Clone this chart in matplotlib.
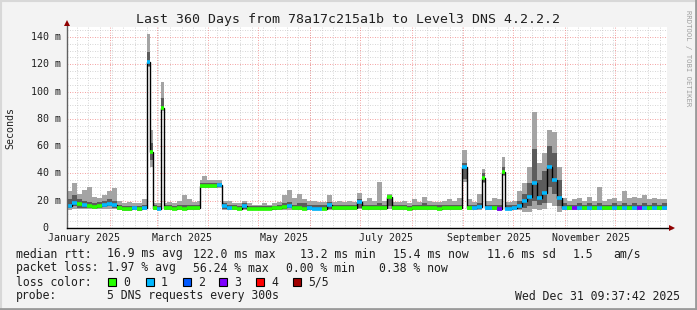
import numpy as np
import matplotlib
matplotlib.use("Agg")
import matplotlib.pyplot as plt
from matplotlib.transforms import blended_transform_factory
from matplotlib.lines import Line2D
from matplotlib.patches import Rectangle
import datetime as dt

# ---------------- data (days since graph start, values in ms) ----------------
seg_day = [0, 3, 6, 9, 12, 15, 18, 21, 24, 27, 30, 33, 36, 39, 42, 45,
           48, 49.8, 51.6, 54, 56.4, 58.2, 60, 63, 66, 69, 72, 75, 78,
           79.8, 81, 84, 87, 90, 93, 96, 99, 102, 105, 108, 111, 114, 117, 120,
           123, 126, 129, 132, 135, 138, 141, 144, 147, 150, 153, 156, 159, 162,
           165, 168, 171, 174, 177, 180, 183, 186, 189, 192, 195, 198, 201, 204,
           207, 210, 213, 216, 219, 222, 225, 228, 231, 234, 237, 240, 243, 246,
           249, 250.8, 252, 255, 258, 261, 262.8, 264, 267, 270, 273, 276, 279,
           282, 285, 288, 291, 294, 297, 300, 303, 306, 309, 312, 315, 318, 321,
           324, 327, 330, 333, 336, 339, 342, 345, 348, 351, 354, 357]
median = [16, 18, 17.5, 16.5, 16, 15.5, 16, 17, 17.5, 16.5, 15, 14, 14, 14.5, 14, 14.5,
          122, 56, 15, 14, 88, 15, 14.5, 14, 14.5, 14, 14.5, 14.5, 15,
          31, 31, 31, 31, 31.5, 16, 15, 14.5, 14, 16, 14, 14, 14, 14, 14,
          14.5, 14.5, 15.5, 16, 14.5, 14.5, 14, 15, 14, 14, 14, 17, 14.5, 14.5,
          14.5, 14.5, 14.5, 19, 14.5, 14.5, 14.5, 15, 14.5, 22.5, 14.5, 14.5, 14.5, 14,
          14.5, 14.5, 15, 14.5, 14.5, 14, 14.5, 14.5, 15, 14.5, 45, 15, 15, 15.5,
          37, 14.5, 14.5, 14.5, 14, 41, 14, 14, 14.5, 16, 20, 23, 33,
          22, 26, 45, 35, 22, 15, 14.5, 14.5, 15, 14.5, 15, 14.5, 15, 14.5,
          14.5, 15, 14.5, 15, 14.5, 15, 14.5, 15, 14.5, 15, 14.5, 15]
smoke_lo = [13, 14, 14, 14, 14, 14, 14, 14, 14, 14, 13, 12.5, 12.5, 13, 12.5, 13,
            118, 45, 13, 13, 86, 13, 13, 13, 13, 13, 13, 13, 13,
            29, 29, 29, 29, 29, 13, 13, 13, 13, 13, 13, 13, 13, 13, 13,
            13, 13, 13, 13, 13, 13, 13, 13, 13, 13, 13, 13, 13, 13,
            13, 13, 13, 14, 13, 13, 13, 13, 13, 14, 13, 13, 13, 13,
            13, 13, 13, 13, 13, 13, 13, 13, 13, 13, 34, 13, 13, 13,
            33, 13, 13, 13, 12.5, 38, 13, 13, 13, 13, 12, 12, 14,
            13, 14, 18, 16, 12, 13, 13, 13, 13, 13, 13, 13, 13, 13,
            13, 13, 13, 13, 13, 13, 13, 13, 13, 13, 13, 13]
dark_lo = [15, 16, 15, 15, 15, 15, 15, 15.5, 16, 15, 14, 13.5, 13.5, 14, 13.5, 14,
           119, 50, 14, 13.5, 87, 14, 14, 13.5, 14, 13.5, 14, 14, 14,
           30, 30, 30, 30, 30, 14, 14, 14, 13.5, 14, 13.5, 13.5, 13.5, 13.5, 13.5,
           13.5, 14, 14, 14.5, 14, 14, 14, 14, 13.5, 13.5, 13.5, 14, 14, 14,
           14, 14, 14, 15, 14, 14, 14, 14, 14, 16, 14, 14, 14, 13.5,
           14, 14, 14, 14, 14, 13.5, 14, 14, 14, 14, 36, 14, 14, 14,
           34, 14, 14, 14, 13.5, 39, 13.5, 13.5, 14, 14, 15, 16, 20,
           17, 18, 30, 25, 16, 14, 14, 14, 14, 14, 14, 14, 14, 14,
           14, 14, 14, 14, 14, 14, 14, 14, 14, 14, 14, 14]
dark_hi = [21, 24, 21, 20, 19, 18, 19, 20, 21, 20, 17, 16, 16, 16, 16, 17,
           129, 62, 17, 16, 95, 17, 17, 16, 17, 17, 17, 17, 17,
           33, 33, 33, 33, 33, 18, 17, 17, 16, 18, 16, 16, 16, 16, 16,
           16, 17, 18, 19, 17, 18, 18, 17, 17, 17, 17, 19, 17, 17,
           17, 17, 17, 21, 17, 17, 17, 18, 17, 23, 17, 17, 17, 16,
           17, 17, 18, 17, 17, 17, 17, 17, 17, 17, 48, 17, 17, 18,
           40, 17, 17, 17, 17, 45, 17, 17, 17, 20, 25, 33, 58,
           35, 42, 60, 55, 35, 18, 17, 17, 18, 17, 18, 17, 18, 17,
           17, 18, 17, 18, 17, 18, 17, 18, 17, 18, 17, 18]
smoke_hi = [27, 33, 25, 28, 30, 23, 22, 24, 27, 29, 20, 18, 19, 18, 18, 21,
            142, 72, 18, 18, 107, 18, 19, 18, 20, 24, 21, 19, 20,
            35, 38, 35, 35, 35, 20, 20, 18, 18, 20, 18, 17, 17, 18, 17,
            18, 19, 24, 28, 22, 25, 21, 20, 20, 19, 19, 24, 19, 20,
            19, 20, 19, 26, 20, 22, 20, 34, 20, 25, 19, 19, 20, 18,
            21, 19, 23, 20, 19, 19, 20, 21, 20, 22, 57, 21, 19, 25,
            43, 20, 20, 22, 21, 52, 19, 19, 20, 27, 33, 45, 85,
            48, 55, 72, 70, 45, 22, 20, 21, 22, 20, 23, 20, 30, 20,
            21, 22, 20, 27, 22, 23, 22, 24, 21, 22, 21, 21]
loss = [1, 1, 0, 1, 0, 0, 0, 1, 1, 1, 0, 0, 0, 1, 0, 1,
        1, 0, 0, 1, 0, 0, 0, 0, 0, 0, 0, 0, 0,
        0, 0, 0, 0, 1, 1, 1, 0, 0, 1, 0, 0, 0, 0, 0,
        0, 0, 0, 1, 0, 0, 0, 1, 1, 1, 0, 1, 0, 0,
        0, 0, 0, 1, 0, 0, 0, 0, 0, 0, 0, 0, 0, 0,
        0, 0, 0, 0, 0, 0, 0, 0, 0, 0, 1, 0, 1, 1,
        0, 1, 1, 0, 3, 0, 1, 1, 1, 1, 1, 1, 1,
        1, 1, 1, 1, 1, 1, 0, 3, 1, 0, 1, 0, 1, 0,
        0, 1, 0, 1, 0, 1, 3, 1, 0, 1, 0, 1]
total_days = 360

y_ticks = [0, 20, 40, 60, 80, 100, 120, 140]
month_labels = ["January 2025", "March 2025", "May 2025", "July 2025",
                "September 2025", "November 2025"]
loss_names = ["0", "1", "2", "3", "4", "5/5"]
loss_colors = ["#26ff00", "#00b8ff", "#0059ff", "#7e00ff", "#ff0000", "#a00000"]

legend_rows = [
    [(16, "median rtt:"), (107, "16.9 ms avg"), (193, "122.0 ms max"),
     (300, "13.2 ms min"), (393, "15.4 ms now"), (487, "11.6 ms sd"),
     (573, "1.5"), (613, "am/s")],
    [(16, "packet loss:"), (107, "1.97 % avg"), (193, "56.24 % max"),
     (286, "0.00 % min"), (379, "0.38 % now")],
]

# ---------------- figure ----------------
W, H = 697, 310
fig = plt.figure(figsize=(W / 100, H / 100), dpi=100)
fig.patch.set_facecolor("#f3f3f3")
MONO = "DejaVu Sans Mono"

def fx(x):
    return x / W

def fy(y):
    return 1 - y / H

px_left, px_right, px_top, px_bottom = 67, 667, 27, 228
ax = fig.add_axes([fx(px_left), fy(px_bottom), (px_right - px_left) / W,
                   (px_bottom - px_top) / H])
ax.set_facecolor("white")
ymax = (px_bottom - px_top) / (27.29 / 20)
ax.set_xlim(0, total_days)
ax.set_ylim(0, ymax)
for s in ax.spines.values():
    s.set_visible(False)
ax.set_xticks([])
ax.set_yticks([])

start = dt.datetime(2025, 1, 6, 5, 0)

def dday(d):
    return (d - start).total_seconds() / 86400.0

# grid
dots = (0, (1, 2))
for v in np.arange(5, ymax, 5):
    if v % 20 != 0:
        ax.axhline(v, color="#c8c8c8", lw=0.6, ls=dots, zorder=0)
d = dt.datetime(2025, 1, 12)
while dday(d) < total_days:
    ax.axvline(dday(d), color="#c8c8c8", lw=0.6, ls=dots, zorder=0)
    d += dt.timedelta(days=7)
for v in y_ticks[1:]:
    ax.axhline(v, color="#f08080", lw=0.6, ls=dots, zorder=0.5)
for m in range(2, 13):
    ax.axvline(dday(dt.datetime(2025, m, 1)), color="#f08080", lw=0.6, ls=dots,
               zorder=0.5)

edges = np.array(list(seg_day) + [total_days], dtype=float)
ax.stairs(smoke_hi, edges, baseline=smoke_lo, fill=True, color="#a4a4a4", lw=0,
          zorder=1)
ax.stairs(dark_hi, edges, baseline=dark_lo, fill=True, color="#5c5c5c", lw=0,
          zorder=2)
ax.stairs(median, edges, baseline=None, color="black", lw=1.0, zorder=3)
ax.hlines(median, edges[:-1], edges[1:], colors=[loss_colors[l] for l in loss],
          lw=2.6, zorder=4)

# axes lines with arrows
ax.plot([0, 0], [0, 1.015], transform=ax.transAxes, color="#606060", lw=1,
        clip_on=False, zorder=6)
ax.plot([0, 1.008], [0, 0], transform=ax.transAxes, color="black", lw=1,
        clip_on=False, zorder=6)
ax.plot([0], [1.02], transform=ax.transAxes, marker="^", ms=5, color="#900000",
        clip_on=False, zorder=7, mew=0)
ax.plot([1.008], [0], transform=ax.transAxes, marker=">", ms=5, color="#900000",
        clip_on=False, zorder=7, mew=0)

# tick labels
ty = blended_transform_factory(fig.transFigure, ax.transData)
for v in y_ticks:
    lab = "%d m" % v if v else "0  "
    fig.text(fx(61), v, lab, transform=ty, ha="right", va="center",
             family=MONO, fontsize=7.2, color="#202020")
tx = blended_transform_factory(ax.transData, fig.transFigure)
for i, lab in enumerate(month_labels):
    d = dt.datetime(2025, 1 + 2 * i, 16, 12)
    fig.text(dday(d), fy(238), lab, transform=tx, ha="center", va="center",
             family=MONO, fontsize=7.2, color="#202020")

fig.text(fx(10), fy(128), "Seconds", rotation=90, ha="center", va="center",
         family=MONO, fontsize=7.2, color="#202020")
fig.text(fx(348), fy(19), "Last 360 Days from 78a17c215a1b to Level3 DNS 4.2.2.2",
         ha="center", va="center", family=MONO, fontsize=9.5, color="#202020")
fig.text(fx(688), fy(58), "RRDTOOL / TOBI OETIKER", rotation=-90, ha="center",
         va="center", family=MONO, fontsize=5.2, color="#a0a0a0")

# legend
LFS = 8.3
for row_y, row in zip([254, 268], legend_rows):
    for x, s in row:
        fig.text(fx(x), fy(row_y), s, ha="left", va="center", family=MONO,
                 fontsize=LFS, color="#202020")
fig.text(fx(16), fy(282), "loss color:", ha="left", va="center", family=MONO,
         fontsize=LFS, color="#202020")
box_x = [108, 146, 183, 219, 256, 293]
for bx, name, col in zip(box_x, loss_names, loss_colors):
    fig.patches.append(Rectangle((fx(bx), fy(286)), 8 / W, 8 / H,
                                 transform=fig.transFigure, facecolor=col,
                                 edgecolor="black", lw=0.8))
    fig.text(fx(bx + 15), fy(282), name, ha="left", va="center", family=MONO,
             fontsize=LFS, color="#202020")
fig.text(fx(16), fy(296), "probe:", ha="left", va="center", family=MONO,
         fontsize=LFS, color="#202020")
fig.text(fx(107), fy(296), "5 DNS requests every 300s", ha="left", va="center",
         family=MONO, fontsize=LFS, color="#202020")
fig.text(fx(680), fy(296), "Wed Dec 31 09:37:42 2025", ha="right", va="center",
         family=MONO, fontsize=LFS, color="#202020")

# 3D frame
fig.add_artist(Line2D([0, 1], [fy(0.5), fy(0.5)], color="#d8d8d8", lw=1.5))
fig.add_artist(Line2D([fx(0.5), fx(0.5)], [0, 1], color="#d8d8d8", lw=1.5))
fig.add_artist(Line2D([0, 1], [fy(309), fy(309)], color="#9a9a9a", lw=2))
fig.add_artist(Line2D([fx(696), fx(696)], [0, 1], color="#9a9a9a", lw=2))

fig.savefig("out.png", dpi=100, facecolor=fig.get_facecolor())
